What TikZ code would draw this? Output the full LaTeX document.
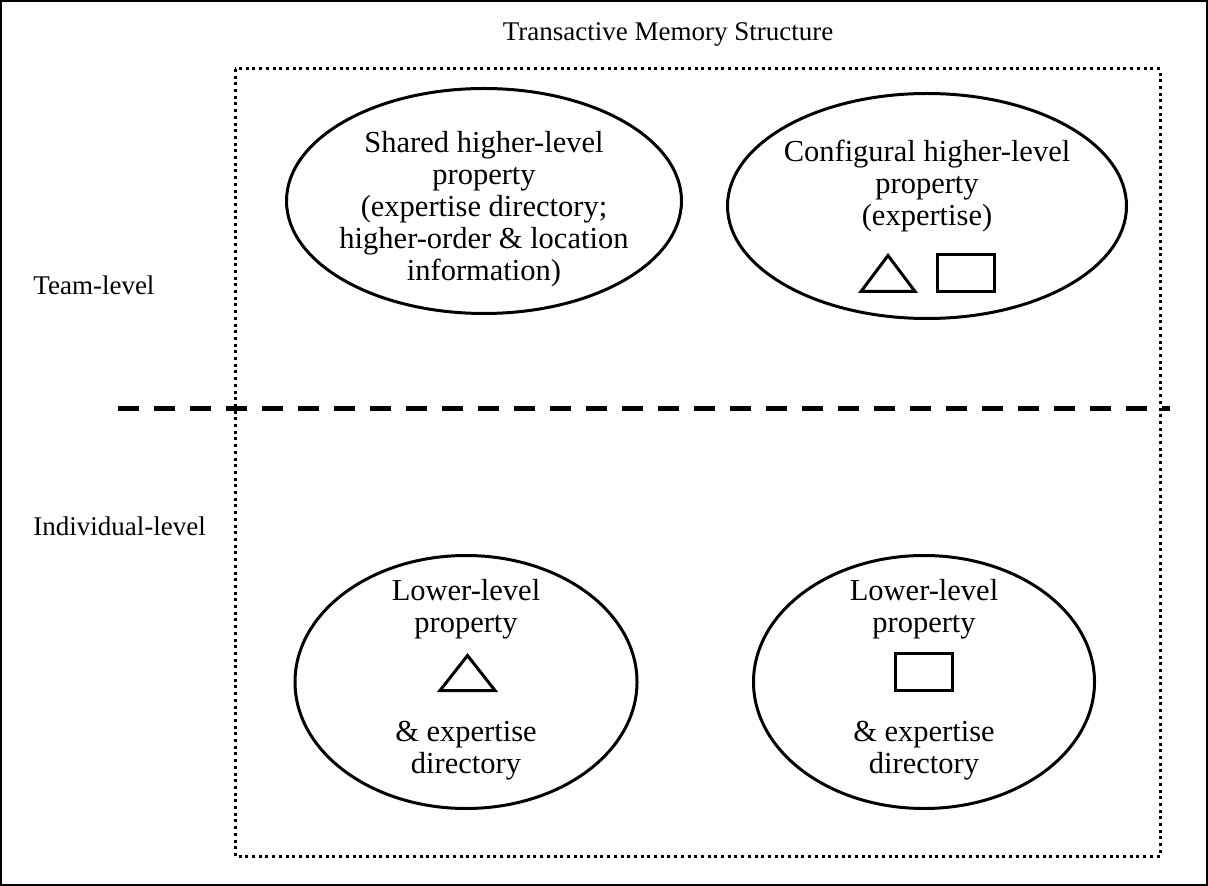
\documentclass[tikz,border=0pt]{standalone}
\usepackage{fontspec}
\setmainfont{Liberation Serif}
\usetikzlibrary{shapes.geometric}
\begin{document}
\begin{tikzpicture}[x=0.5pt, y=-0.5pt,
    blob/.style={ellipse, draw, line width=1.5pt, inner sep=0pt},
    txt/.style={inner sep=0pt, align=center, font=\fontsize{15.25}{16}\selectfont},
    lbl/.style={inner sep=0pt, anchor=base west, font=\fontsize{13.5}{16}\selectfont},
    boxmark/.style={draw, line width=1.5pt, inner sep=0pt, minimum width=28.5pt, minimum height=18.5pt},
    trimark/.style={draw, line width=1.5pt}]
    \useasboundingbox (0,0) rectangle (1208,886);
    \draw[line width=1pt] (1,1) rectangle (1207,885);
    \draw[line width=1.5pt, dash pattern=on 1.5pt off 1.85pt] (235,69) rectangle (1160,856);
    \node[lbl, anchor=base] (title) at (668,41) {Transactive Memory Structure};
    \node[lbl] (team) at (33,295) {Team-level};
    \node[lbl] (indiv) at (33,536) {Individual-level};
    \draw[line width=2.5pt, dash pattern=on 10.5pt off 7.5pt] (118,409) -- (1170,409);
    % team level
    \node[blob, minimum width=197.5pt, minimum height=112.5pt] (shared) at (484,201) {};
    \node[txt] (sharedtxt) at (484,209) {Shared higher-level\\property\\(expertise directory;\\higher-order \& location\\information)};
    \node[blob, minimum width=199.5pt, minimum height=112.5pt] (config) at (927,206) {};
    \node[txt] (configtxt) at (927,186) {Configural higher-level\\property\\(expertise)};
    \draw[trimark] (861,291.5) -- (888,255.5) -- (915,291.5) -- cycle;
    \node[boxmark] (configbox) at (966,273) {};
    % individual level
    \node[blob, minimum width=171pt, minimum height=126.5pt] (lowA) at (466,682) {};
    \node[txt] (lowAtop) at (466,609) {Lower-level\\property};
    \draw[trimark] (440,690.5) -- (467.5,655.5) -- (495,690.5) -- cycle;
    \node[txt] (lowAbot) at (466,751) {\& expertise\\directory};
    \node[blob, minimum width=170.5pt, minimum height=126.5pt] (lowB) at (924,682) {};
    \node[txt] (lowBtop) at (924,609) {Lower-level\\property};
    \node[boxmark] (lowBbox) at (924,672) {};
    \node[txt] (lowBbot) at (924,751) {\& expertise\\directory};
\end{tikzpicture}
\end{document}
